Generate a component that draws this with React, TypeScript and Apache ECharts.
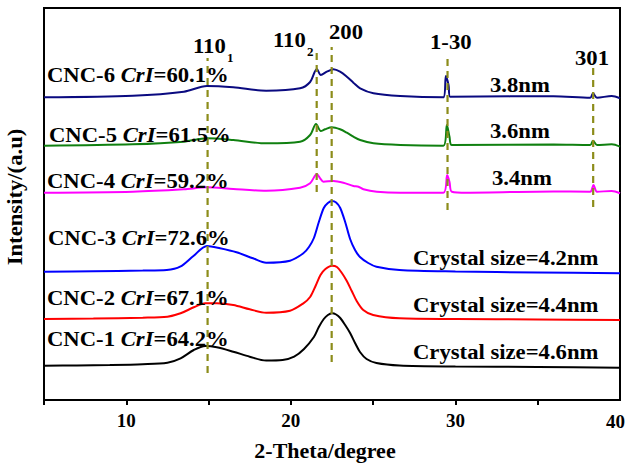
import React, { useEffect, useRef } from "react";
import * as echarts from "echarts";

// 2-Theta (degree) vs intensity (a.u., stacked offsets)
const cnc1: [number, number][] = [
  [5, 34.3], [7, 34.6], [9, 35], [11, 35.8], [12.5, 37.3], [13.3, 41.7], [14.1, 50], [14.8, 54],
  [15.5, 52.7], [16.5, 48.3], [17.5, 43.3], [18.5, 39.5], [19.5, 40], [20.2, 43.3], [20.8, 51],
  [21.4, 63], [21.7, 73], [22, 81], [22.25, 85], [22.5, 86.7], [22.75, 85.5], [23, 82], [23.3, 75],
  [23.6, 67], [23.9, 57], [24.2, 48], [24.6, 41], [25.2, 37], [26.6, 34.5], [30, 33.5], [35, 33], [40, 32.3],
];
const cnc2: [number, number][] = [
  [5, 81], [8, 81.5], [11, 82.3], [12.5, 83.3], [13.3, 86.7], [14.1, 92.7], [14.8, 96.7], [15.5, 96.7],
  [16.5, 95], [17.5, 90.7], [18.5, 87.3], [19.95, 89.3], [20.76, 96.7], [21.17, 103], [21.5, 114],
  [21.8, 125], [22.1, 131], [22.5, 134.3], [22.8, 133], [23.1, 127], [23.4, 119], [23.7, 109], [24, 99],
  [24.4, 90], [25, 85], [26.6, 81.7], [30, 81], [35, 80.5], [40, 80],
];
const cnc3: [number, number][] = [
  [5, 128.3], [8, 128.8], [11, 129.4], [12.46, 130], [13.27, 133.3], [14.08, 144], [14.9, 154], [15.7, 151.7],
  [16.7, 147.7], [17.7, 141.7], [18.5, 137.3], [19.95, 139.3], [20.76, 146.7], [21.1, 153], [21.4, 162],
  [21.7, 178], [22, 192], [22.25, 197], [22.5, 199], [22.75, 197.5], [23, 192], [23.3, 178], [23.6, 161],
  [23.9, 150], [24.2, 143], [24.7, 137], [25.2, 133.3], [26.6, 130], [30, 128.5], [35, 127.5], [40, 126.7],
];
const cnc4: [number, number][] = [
  [5, 207.3], [10.4, 208.3], [13.5, 210.7], [14.9, 212.7], [16.5, 211], [18.5, 209.3], [20.56, 212.3],
  [21.17, 216.7], [21.58, 226], [21.78, 221.7], [21.98, 218.3], [22.59, 219], [23.19, 217.3], [23.8, 214],
  [24.11, 213.3], [24.41, 210.7], [25.22, 208.3], [26.64, 207.3], [29.27, 207.3], [29.5, 225], [29.64, 218],
  [29.78, 208.3], [30.7, 207.3], [35.96, 208.6], [38.19, 208.3], [38.39, 215], [38.6, 208.3], [39.5, 209],
  [40, 206.7],
];
const cnc5: [number, number][] = [
  [5, 254.3], [10.4, 255.7], [13.5, 258.3], [14.9, 261.7], [16.5, 260], [18.5, 256.7], [20.56, 258.3],
  [21.17, 265], [21.53, 276], [21.82, 269], [22.08, 270.7], [22.49, 272.7], [22.99, 270.7], [23.4, 267.3],
  [23.8, 263.3], [24.21, 260], [25.02, 256.7], [26.64, 255], [29.27, 254.3], [29.48, 275], [29.64, 263.3],
  [29.78, 255], [35.96, 255.5], [38.19, 255], [38.36, 259.3], [38.6, 255], [39.5, 255.7], [40, 253.3],
];
const cnc6: [number, number][] = [
  [5, 302.7], [10.4, 304.3], [13.5, 308.3], [14.9, 314], [16.5, 312.7], [18.5, 309.3], [20.56, 311.7],
  [21.17, 318], [21.58, 331], [21.82, 325], [22.19, 328.3], [22.59, 330.7], [22.99, 328.3], [23.4, 323.3],
  [23.8, 317.3], [24.21, 311.7], [25.02, 306.7], [26.64, 304], [29.27, 302.7], [29.42, 324], [29.58, 315],
  [29.68, 303.3], [35.96, 303.8], [38.19, 302.3], [38.36, 306.7], [38.6, 302.3], [39.5, 304], [40, 301.7],
];

const sampleNames = ["CNC-1", "CNC-2", "CNC-3", "CNC-4", "CNC-5", "CNC-6"];
const crIValues = ["64.2", "67.1", "72.6", "59.2", "61.5", "60.1"];
const sizeLabels = [
  "Crystal size=4.6nm",
  "Crystal size=4.4nm",
  "Crystal size=4.2nm",
  "3.4nm",
  "3.6nm",
  "3.8nm",
];
const peakPositions = [14.94, 21.57, 22.48, 29.52, 38.37];
const peakLineTop = [342, 347, 353, 342, 332];
const peakLineBottom = [27, 208, 38, 190, 193];
const peakNames = ["110", "110", "200", "1-30", "301"];
const peakSubs = ["1", "2", "", "", ""];
const xTickLabels = [10, 20, 30, 40];

const FONT = "'Times New Roman', 'Liberation Serif', serif";
const colors = ["#000000", "#ff0000", "#0000ff", "#ff00ff", "#108010", "#0a0a80"];
const curves = [cnc1, cnc2, cnc3, cnc4, cnc5, cnc6];

export default function App() {
  const ref = useRef<HTMLDivElement>(null);
  useEffect(() => {
    document.body.style.margin = "0";
    if (!ref.current) return;
    const chart = echarts.init(ref.current, undefined, { renderer: "svg" });

    const gridLeft = 44, gridTop = 8, gridW = 576, gridH = 392;
    const yMax = 392;
    const xMax = 40;

    const lineSeries: any[] = curves.map((d, i) => ({
      type: "line",
      name: sampleNames[i],
      data: d,
      showSymbol: false,
      smooth: 0.3,
      lineStyle: { color: colors[i], width: 2 },
      z: 2,
    }));
    const dashSeries: any[] = peakPositions.map((p, i) => ({
      type: "line",
      data: [[p, peakLineBottom[i]], [p, peakLineTop[i]]],
      showSymbol: false,
      lineStyle: { color: "#8c8c1a", width: 2.2, type: [7, 5] },
      z: 3,
    }));

    const labelLeft = [47, 47, 48, 47, 49, 47];
    const labelY = [339, 298, 238, 181.5, 135, 75];
    const sizeLeft = [413, 413, 413, 492, 490, 490];
    const sizeY = [352, 305, 258, 178.5, 131, 85];
    const SX = 1.08;

    const textStyle = (text: string, size: number) => ({
      text,
      fontSize: size,
      fontWeight: "bold",
      fontFamily: FONT,
      fill: "#000",
      align: "left",
      verticalAlign: "middle",
    });

    const graphics: any[] = [];
    sampleNames.forEach((n, i) => {
      graphics.push({
        type: "text",
        x: labelLeft[i],
        y: labelY[i],
        scaleX: SX,
        style: {
          ...textStyle(`${n} {i|CrI}=${crIValues[i]}%`, 21),
          rich: {
            i: { fontStyle: "italic", fontWeight: "bold", fontSize: 21, fontFamily: FONT, fill: "#000" },
          },
        },
        z: 10,
      });
      graphics.push({
        type: "text",
        x: sizeLeft[i],
        y: sizeY[i],
        scaleX: SX,
        style: textStyle(sizeLabels[i], 21),
        z: 10,
      });
    });
    const peakLabelLeft = [193, 273, 329, 430, 575];
    const peakLabelY = [46.5, 40.5, 32, 42.5, 58.5];
    peakNames.forEach((n, i) => {
      graphics.push({
        type: "text",
        x: peakLabelLeft[i],
        y: peakLabelY[i],
        scaleX: SX,
        style: textStyle(n, 21),
        z: 10,
      });
      if (peakSubs[i]) {
        graphics.push({
          type: "text",
          x: peakLabelLeft[i] + 34,
          y: peakLabelY[i] + 10.5,
          style: textStyle(peakSubs[i], 13),
          z: 10,
        });
      }
    });
    graphics.push({
      type: "text",
      x: 15,
      y: 197,
      rotation: Math.PI / 2,
      scaleX: SX,
      style: { ...textStyle("Intensity/(a.u)", 21), align: "center" },
      z: 10,
    });
    graphics.push({
      type: "text",
      x: 325,
      y: 451,
      scaleX: 1.1,
      style: { ...textStyle("2-Theta/degree", 20), align: "center" },
      z: 10,
    });
    // last tick label, nudged inside the page edge
    graphics.push({
      type: "text",
      x: 625,
      y: 421,
      style: { ...textStyle(String(xMax), 19), align: "right" },
      z: 10,
    });

    chart.setOption({
      animation: false,
      grid: {
        left: gridLeft,
        top: gridTop,
        width: gridW,
        height: gridH,
        show: true,
        borderColor: "#000",
        borderWidth: 2,
        containLabel: false,
        outerBoundsMode: "none",
      },
      xAxis: {
        type: "value",
        min: 5,
        max: xMax,
        interval: 5,
        axisLine: { show: true, lineStyle: { color: "#000", width: 2 } },
        axisTick: { show: true, inside: false, length: 5, lineStyle: { color: "#000", width: 2 } },
        splitLine: { show: false },
        axisLabel: {
          color: "#000",
          fontSize: 19,
          fontWeight: "bold",
          fontFamily: FONT,
          margin: 11,
          showMaxLabel: false,
          formatter: (v: number) => (xTickLabels.includes(v) && v !== xMax ? String(v) : ""),
        },
      },
      yAxis: {
        type: "value",
        min: 0,
        max: yMax,
        axisLine: { show: true, lineStyle: { color: "#000", width: 2 } },
        axisTick: { show: false },
        axisLabel: { show: false },
        splitLine: { show: false },
      },
      series: [...lineSeries, ...dashSeries],
      graphic: graphics,
    });
    return () => chart.dispose();
  }, []);
  return <div ref={ref} style={{ width: 627, height: 465 }} />;
}
